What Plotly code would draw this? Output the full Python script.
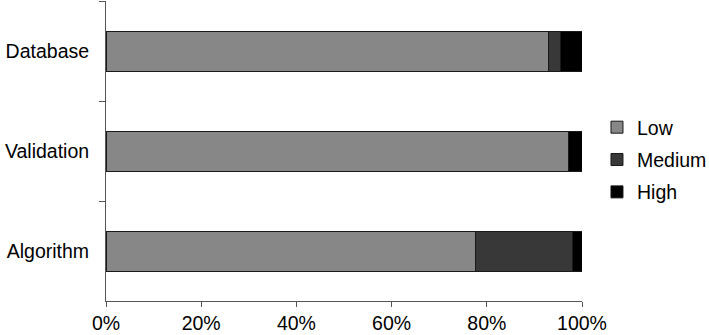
import plotly.graph_objects as go

categories = ["Database", "Validation", "Algorithm"]
low = [0.929, 0.972, 0.777]
medium = [0.025, 0.0, 0.202]
high = [0.046, 0.028, 0.021]

series = [("Low", low, "#878787"), ("Medium", medium, "#383838"), ("High", high, "#000000")]

fig = go.Figure()
for name, vals, col in series:
    fig.add_trace(go.Bar(
        y=categories, x=vals, name=name, orientation="h", width=0.4,
        legendgroup=name,
        marker=dict(color=col, line=dict(color="#1a1a1a", width=1)),
    ))

fig.update_layout(
    barmode="stack",
    width=709, height=335,
    margin=dict(l=106, r=127, t=1, b=34, autoexpand=False),
    paper_bgcolor="white", plot_bgcolor="white",
    font=dict(family="Liberation Sans, Arial, sans-serif", size=19.5, color="black"),
    showlegend=True,
    legend=dict(xref="container", x=0.842, y=0.47, xanchor="left", yanchor="middle",
                font=dict(size=19.5), traceorder="grouped", tracegroupgap=4,
                itemwidth=30),
    xaxis=dict(range=[0, 1], tickformat=".0%", dtick=0.2, showgrid=False, zeroline=False,
               showline=True, linecolor="#555555", linewidth=1, ticks="outside",
               ticklen=5, tickcolor="#555555", fixedrange=True),
    yaxis=dict(autorange="reversed", showgrid=False, showline=True, linecolor="#555555",
               linewidth=1, ticks="outside", ticklen=6, tickcolor="#555555",
               tickson="boundaries", ticklabelstandoff=12),
    bargap=0.6,
)

fig.write_html("out.html")
